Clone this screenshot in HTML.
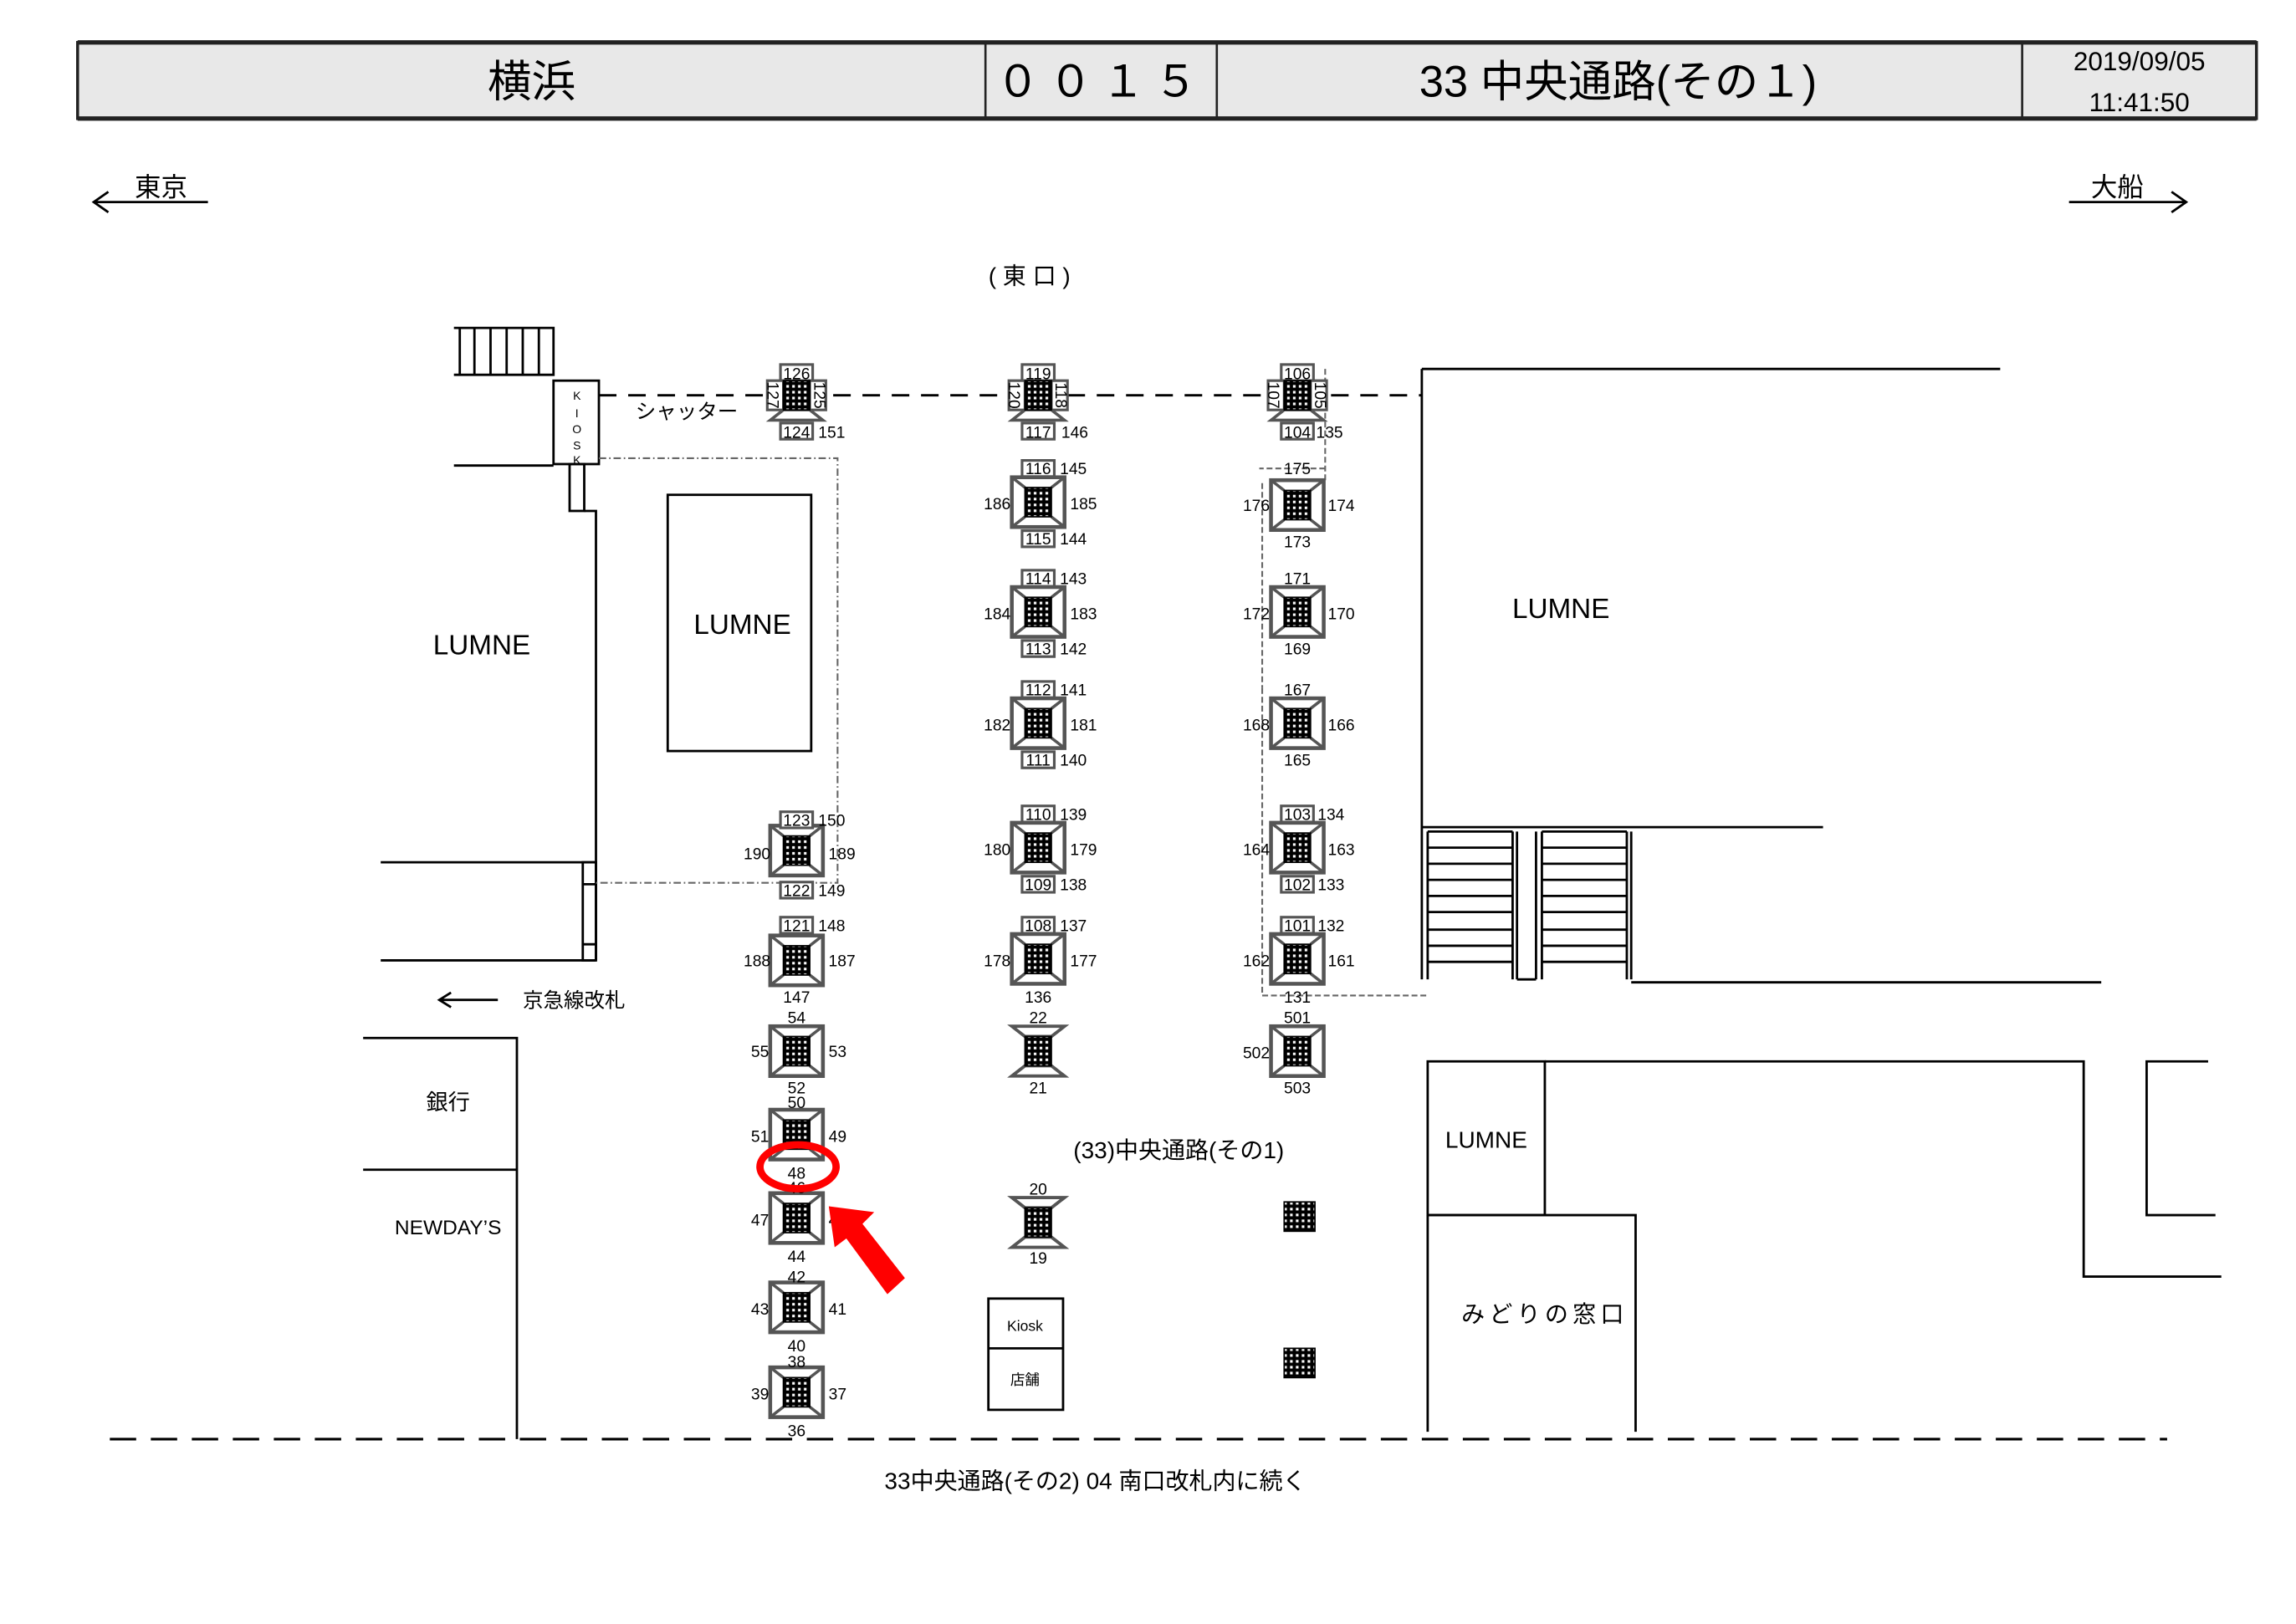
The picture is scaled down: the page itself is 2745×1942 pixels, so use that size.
<!DOCTYPE html>
<html><head><meta charset="utf-8"><style>
html,body{margin:0;padding:0;background:#fff;}
svg{display:block;}
text{font-family:"Liberation Sans","Noto Sans CJK JP",sans-serif;fill:#000;}
.n{font-size:11px;text-anchor:middle;}
.l{stroke:#000;stroke-width:1.6;fill:none;}
.b{fill:#fff;stroke:#555;stroke-width:1.8;}
</style></head><body>
<svg width="2745" height="1942" viewBox="0 0 1568 1109.3" preserveAspectRatio="none" xmlns="http://www.w3.org/2000/svg">
<defs>
<pattern id="dots" width="4" height="4" patternUnits="userSpaceOnUse"><rect width="4" height="4" fill="#000"/><rect x="1" y="1" width="1.8" height="1.8" fill="#fff"/></pattern>
<g id="core"><rect x="-9" y="-10" width="18" height="20" fill="url(#dots)" stroke="#000" stroke-width="1"/></g>
<g id="p"><rect x="-18" y="-17" width="36" height="34" fill="#fff" stroke="#555" stroke-width="2.6"/>
<path d="M-18,-17L-9,-10M18,-17L9,-10M-18,17L-9,10M18,17L9,10" stroke="#555" stroke-width="2"/><use href="#core"/></g>
<g id="h"><polygon points="-18,-17 18,-17 9,-10 -9,-10" fill="#fff" stroke="#555" stroke-width="2.2"/><polygon points="-18,17 18,17 9,10 -9,10" fill="#fff" stroke="#555" stroke-width="2.2"/><use href="#core"/></g>
<g id="s"><rect class="b" x="-11" y="-21" width="22" height="11"/><rect class="b" x="-20" y="-10" width="11" height="20"/><rect class="b" x="9" y="-10" width="11" height="20"/>
<polygon points="-9,10 9,10 18,17 -18,17" fill="#fff" stroke="#555" stroke-width="2"/><rect class="b" x="-11" y="19" width="22" height="11"/><use href="#core"/></g>
<g id="bx"><rect class="b" x="-11" y="-5.5" width="22" height="11"/></g>
</defs>

<!-- header -->
<rect x="53" y="29" width="1488" height="52" fill="#e8e8e8" stroke="#222" stroke-width="2"/>
<line x1="53" y1="29" x2="1541" y2="29" stroke="#222" stroke-width="3"/>
<line x1="53" y1="81" x2="1541" y2="81" stroke="#222" stroke-width="3"/>
<path d="M673,29V81M831,29V81M1381,29V81" stroke="#222" stroke-width="1.5"/>
<text x="363" y="66" font-size="30" text-anchor="middle">横浜</text>
<text x="752" y="66" font-size="30" text-anchor="middle" letter-spacing="6">００１５</text>
<text x="1105" y="66" font-size="30" text-anchor="middle">33 中央通路(その１)</text>
<text x="1461" y="48" font-size="18" text-anchor="middle">2019/09/05</text>
<text x="1461" y="76" font-size="18" text-anchor="middle">11:41:50</text>

<!-- direction arrows -->
<path class="l" d="M64,138H142M74,131L64,138L74,145"/>
<text x="110" y="134" font-size="18" text-anchor="middle">東京</text>
<path class="l" d="M1413,138H1493M1483,131L1493,138L1483,145"/>
<text x="1446" y="134" font-size="18" text-anchor="middle">大船</text>
<text x="703" y="194" font-size="16" text-anchor="middle">(  東  口  )</text>

<!-- stairs top-left -->
<path class="l" d="M310,224H378V256H310M314,224V256M324,224V256M335,224V256M346,224V256M357,224V256M368,224V256"/>
<path class="l" d="M310,318H378"/>
<rect class="l" x="378" y="260" width="31" height="57"/>
<g font-size="8" text-anchor="middle"><text x="394" y="273">K</text><text x="394" y="285">I</text><text x="394" y="296">O</text><text x="394" y="307">S</text><text x="394" y="317">K</text></g>
<rect class="l" x="389" y="317" width="10" height="32"/>
<path class="l" d="M399,349H407V656"/>
<path class="l" d="M260,589H407M260,656H407"/>
<rect class="l" x="398" y="589" width="9" height="67"/>
<path class="l" d="M398,604H407M398,645H407"/>
<text x="329" y="447" font-size="19" text-anchor="middle">LUMNE</text>

<!-- dash-dot region -->
<path d="M409,313H572V603H407" fill="none" stroke="#666" stroke-width="1.2" stroke-dasharray="5,2,1,2"/>
<rect class="l" x="456" y="338" width="98" height="175"/>
<text x="507" y="433" font-size="19" text-anchor="middle">LUMNE</text>

<!-- shutter line -->
<path d="M409,270H971" stroke="#000" stroke-width="1.6" stroke-dasharray="12,8"/>
<text x="469" y="286" font-size="14" text-anchor="middle">シャッター</text>

<!-- right dash-dot -->
<path d="M905,252V328M905,320H860M862,470V680H975" fill="none" stroke="#666" stroke-width="1.2" stroke-dasharray="4,2"/>
<path d="M862,330V470" fill="none" stroke="#666" stroke-width="1.2" stroke-dasharray="4,2"/>

<!-- right LUMNE -->
<path class="l" d="M971,252H1366M971,252V669M971,565H1245" stroke-width="2"/>
<path class="l" d="M975,568V669M1033,568V669M1036,568V669M1049,568V669M1053,568V669M1111,568V669M1114,568V669M1114,671H1435M1036,669H1049"/>
<path class="l" d="M975,568H1033M975,579H1033M975,590H1033M975,601H1033M975,612H1033M975,623H1033M975,635H1033M975,646H1033M975,657H1033"/>
<path class="l" d="M1053,568H1111M1053,579H1111M1053,590H1111M1053,601H1111M1053,612H1111M1053,623H1111M1053,635H1111M1053,646H1111M1053,657H1111"/>
<text x="1066" y="422" font-size="19" text-anchor="middle">LUMNE</text>

<!-- lower right -->
<rect class="l" x="975" y="725" width="80" height="105"/>
<text x="1015" y="784" font-size="16" text-anchor="middle">LUMNE</text>
<path class="l" d="M1055,725H1423V872H1517"/>
<path class="l" d="M975,830H1117V978M975,830V978"/>
<text x="1055" y="903" font-size="16" text-anchor="middle" letter-spacing="3">みどりの窓口</text>
<path class="l" d="M1508,725H1466V830H1513"/>

<!-- lower left -->
<path class="l" d="M248,709H353V983M248,799H353"/>
<text x="306" y="758" font-size="15" text-anchor="middle">銀行</text>
<text x="306" y="843" font-size="14" text-anchor="middle">NEWDAY’S</text>
<path class="l" d="M300,683H340M308,678L300,683L308,688"/>
<text x="392" y="688" font-size="14" text-anchor="middle">京急線改札</text>

<!-- bottom -->
<path d="M75,983H1480" stroke="#000" stroke-width="1.8" stroke-dasharray="18,10"/>
<text x="748" y="1017" font-size="16" text-anchor="middle">33中央通路(その2)  04 南口改札内に続く</text>
<text x="805" y="791" font-size="16" text-anchor="middle">(33)中央通路(その1)</text>
<rect class="l" x="675" y="887" width="51" height="76"/>
<path class="l" d="M675,921H726"/>
<text x="700" y="909" font-size="10" text-anchor="middle">Kiosk</text>
<text x="700" y="946" font-size="10" text-anchor="middle">店舗</text>
<rect x="877" y="821" width="21" height="20" fill="url(#dots)" stroke="#000"/>
<rect x="877" y="921" width="21" height="20" fill="url(#dots)" stroke="#000"/>

<!-- shutter pillars -->
<use href="#s" x="544" y="270"/>
<use href="#s" x="709" y="270"/>
<use href="#s" x="886" y="270"/>
<g class="n">
<text x="544" y="259">126</text><text x="560" y="270" transform="rotate(90 560 270)" dy="4">125</text><text x="528" y="270" transform="rotate(90 528 270)" dy="4">127</text><text x="544" y="299">124</text><text x="568" y="299">151</text>
<text x="709" y="259">119</text><text x="725" y="270" transform="rotate(90 725 270)" dy="4">118</text><text x="693" y="270" transform="rotate(90 693 270)" dy="4">120</text><text x="709" y="299">117</text><text x="734" y="299">146</text>
<text x="886" y="259">106</text><text x="902" y="270" transform="rotate(90 902 270)" dy="4">105</text><text x="870" y="270" transform="rotate(90 870 270)" dy="4">107</text><text x="886" y="299">104</text><text x="908" y="299">135</text>
</g>

<!-- column A -->
<g transform="translate(2,0)">
<use href="#p" x="542" y="581"/><use href="#bx" x="542" y="560"/><use href="#bx" x="542" y="608"/>
<use href="#p" x="542" y="656"/><use href="#bx" x="542" y="632"/>
<use href="#p" x="542" y="718"/>
<use href="#p" x="542" y="775"/>
<use href="#p" x="542" y="832"/>
<use href="#p" x="542" y="893"/>
<use href="#p" x="542" y="951"/>
<g class="n">
<text x="542" y="564">123</text><text x="566" y="564">150</text><text x="515" y="587">190</text><text x="573" y="587">189</text><text x="542" y="612">122</text><text x="566" y="612">149</text>
<text x="542" y="636">121</text><text x="566" y="636">148</text><text x="515" y="660">188</text><text x="573" y="660">187</text><text x="542" y="685">147</text>
<text x="542" y="699">54</text><text x="517" y="722">55</text><text x="570" y="722">53</text><text x="542" y="747">52</text>
<text x="542" y="757">50</text><text x="517" y="780">51</text><text x="570" y="780">49</text><text x="542" y="805">48</text>
<text x="542" y="815">46</text><text x="517" y="837">47</text><text x="570" y="837">45</text><text x="542" y="862">44</text>
<text x="542" y="876">42</text><text x="517" y="898">43</text><text x="570" y="898">41</text><text x="542" y="923">40</text>
<text x="542" y="934">38</text><text x="517" y="956">39</text><text x="570" y="956">37</text><text x="542" y="981">36</text>
</g>
</g>

<!-- column B -->
<use href="#p" x="709" y="343"/><use href="#bx" x="709" y="320"/><use href="#bx" x="709" y="368"/>
<use href="#p" x="709" y="418"/><use href="#bx" x="709" y="395"/><use href="#bx" x="709" y="443"/>
<use href="#p" x="709" y="494"/><use href="#bx" x="709" y="471"/><use href="#bx" x="709" y="519"/>
<use href="#p" x="709" y="579"/><use href="#bx" x="709" y="556"/><use href="#bx" x="709" y="604"/>
<use href="#p" x="709" y="655"/><use href="#bx" x="709" y="632"/>
<use href="#h" x="709" y="718"/>
<use href="#h" x="709" y="835"/>
<g class="n">
<text x="709" y="324">116</text><text x="733" y="324">145</text><text x="681" y="348">186</text><text x="740" y="348">185</text><text x="709" y="372">115</text><text x="733" y="372">144</text>
<text x="709" y="399">114</text><text x="733" y="399">143</text><text x="681" y="423">184</text><text x="740" y="423">183</text><text x="709" y="447">113</text><text x="733" y="447">142</text>
<text x="709" y="475">112</text><text x="733" y="475">141</text><text x="681" y="499">182</text><text x="740" y="499">181</text><text x="709" y="523">111</text><text x="733" y="523">140</text>
<text x="709" y="560">110</text><text x="733" y="560">139</text><text x="681" y="584">180</text><text x="740" y="584">179</text><text x="709" y="608">109</text><text x="733" y="608">138</text>
<text x="709" y="636">108</text><text x="733" y="636">137</text><text x="681" y="660">178</text><text x="740" y="660">177</text><text x="709" y="685">136</text>
<text x="709" y="699">22</text><text x="709" y="747">21</text>
<text x="709" y="816">20</text><text x="709" y="863">19</text>
</g>

<!-- column C -->
<use href="#p" x="886" y="345"/>
<use href="#p" x="886" y="418"/>
<use href="#p" x="886" y="494"/>
<use href="#p" x="886" y="579"/><use href="#bx" x="886" y="556"/><use href="#bx" x="886" y="604"/>
<use href="#p" x="886" y="655"/><use href="#bx" x="886" y="632"/>
<use href="#p" x="886" y="718"/>
<g class="n">
<text x="886" y="324">175</text><text x="858" y="349">176</text><text x="916" y="349">174</text><text x="886" y="374">173</text>
<text x="886" y="399">171</text><text x="858" y="423">172</text><text x="916" y="423">170</text><text x="886" y="447">169</text>
<text x="886" y="475">167</text><text x="858" y="499">168</text><text x="916" y="499">166</text><text x="886" y="523">165</text>
<text x="886" y="560">103</text><text x="909" y="560">134</text><text x="858" y="584">164</text><text x="916" y="584">163</text><text x="886" y="608">102</text><text x="909" y="608">133</text>
<text x="886" y="636">101</text><text x="909" y="636">132</text><text x="858" y="660">162</text><text x="916" y="660">161</text><text x="886" y="685">131</text>
<text x="886" y="699">501</text><text x="858" y="723">502</text><text x="886" y="747">503</text>
</g>

<!-- highlight -->
<ellipse cx="545" cy="797" rx="26" ry="15" fill="none" stroke="#f00" stroke-width="5"/>
<polygon points="566,824 597,828 589,836 618,873 606,884 578,846 570,852" fill="#f00"/>
</svg>
</body></html>
